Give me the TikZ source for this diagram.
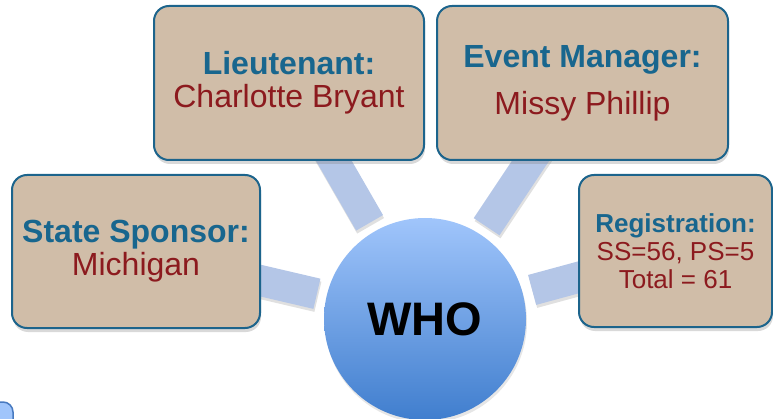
\documentclass[tikz,border=0pt]{standalone}
\usepackage{fontspec}
\setmainfont{Liberation Sans}
\usetikzlibrary{shadows, backgrounds}

\definecolor{boxtan}{RGB}{208,189,168}
\definecolor{boxline}{RGB}{28,100,140}
\definecolor{headblue}{RGB}{24,102,142}
\definecolor{namered}{RGB}{140,26,30}
\definecolor{spokeblue}{RGB}{180,198,231}
\definecolor{whotop}{RGB}{160,197,251}
\definecolor{whobottom}{RGB}{64,126,206}
\definecolor{stubline}{RGB}{72,122,192}

\begin{document}
\begin{tikzpicture}[
        x=1pt, y=1pt,
        box/.style={draw=boxline, line width=2pt, fill=boxtan, rounded corners=15pt, align=center, inner sep=0pt,
            font=\fontsize{32}{33}\selectfont,
            drop shadow={opacity=0.3, shadow xshift=1pt, shadow yshift=-4pt}},
        who/.style={circle, minimum size=202pt, inner sep=0pt, top color=whotop, bottom color=whobottom,
            font=\fontsize{47}{50}\selectfont\bfseries,
            drop shadow={opacity=0.2, shadow xshift=1pt, shadow yshift=-3pt}},
        spoke/.style={draw=spokeblue, line width=31pt, shorten <=111pt,
            preaction={draw=black!12, line width=31pt, shorten <=111pt, transform canvas={xshift=1pt, yshift=-3pt}}},
        stub/.style={draw=stubline, line width=1.5pt, fill=whotop, rounded corners=10pt, minimum width=54pt, minimum height=46pt}
        ]
        \useasboundingbox (0,0) rectangle (773,418);
        \clip (0,0) rectangle (773,418);

        \node[box, minimum width=248pt, minimum height=153pt] (sponsor) at (136,166.5)
            {\textcolor{headblue}{\bfseries State Sponsor:}\\ \textcolor{namered}{Michigan}};
        \node[box, minimum width=270pt, minimum height=154pt] (lieutenant) at (289,335)
            {\textcolor{headblue}{\bfseries Lieutenant:}\\ \textcolor{namered}{Charlotte Bryant}};
        \node[box, minimum width=291pt, minimum height=154pt] (manager) at (582.5,335)
            {\textcolor{headblue}{\bfseries Event Manager:}\\[14pt] \textcolor{namered}{Missy Phillip}};
        \node[box, minimum width=193pt, minimum height=152pt, font=\fontsize{26}{28}\selectfont] (registration) at (675.5,167)
            {\textcolor{headblue}{\bfseries Registration:}\\ \textcolor{namered}{SS=56, PS=5}\\ \textcolor{namered}{Total = 61}};

        \node[who] (who) at (425,99) {WHO};
        \node[stub] (stub) at (-14,-7) {};

        \begin{scope}[on background layer]
            \draw[spoke] (who.center) -- (sponsor.center);
            \draw[spoke] (who.center) -- (lieutenant.center);
            \draw[spoke] (who.center) -- (manager.center);
            \draw[spoke] (who.center) -- (registration.center);
        \end{scope}
    \end{tikzpicture}
\end{document}
